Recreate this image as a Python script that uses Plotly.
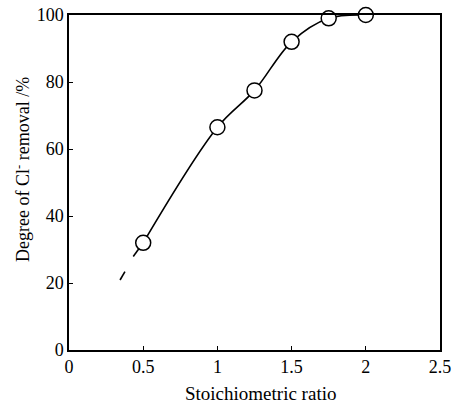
import plotly.graph_objects as go

# data
ratio = [0.5, 1.0, 1.25, 1.5, 1.75, 2.0]
removal = [32, 66.5, 77.5, 92, 99, 100]
# extrapolated part of the fitted curve below the first point
ext_dash_x = [0.344, 0.377]
ext_dash_y = [20.9, 23.4]
ext_solid_x = [0.433, 0.5]
ext_solid_y = [27.9, 32]

x_ticks = [0, 0.5, 1, 1.5, 2, 2.5]
x_ticklabels = ["0", "0.5", "1", "1.5", "2", "2.5"]
y_ticks = [0, 20, 40, 60, 80, 100]
x_title = "Stoichiometric ratio"
y_title = "Degree of Cl<sup>-</sup> removal /%"

font_family = "Liberation Serif"

fig = go.Figure()
fig.add_trace(go.Scatter(x=ext_dash_x, y=ext_dash_y, mode="lines",
                         line=dict(color="black", width=1.6), showlegend=False))
fig.add_trace(go.Scatter(x=ext_solid_x, y=ext_solid_y, mode="lines",
                         line=dict(color="black", width=1.6), showlegend=False))
fig.add_trace(go.Scatter(x=ratio, y=removal, mode="lines",
                         line=dict(color="black", width=1.6, shape="spline", smoothing=1.0),
                         showlegend=False))
fig.add_trace(go.Scatter(x=ratio, y=removal, mode="markers",
                         marker=dict(symbol="circle", size=15, color="white",
                                     line=dict(color="black", width=1.5)),
                         cliponaxis=False, showlegend=False))

fig.update_layout(
    width=452, height=406,
    margin=dict(l=69, r=12, t=15, b=56),
    paper_bgcolor="white", plot_bgcolor="white",
    font=dict(family=font_family, size=18, color="black"),
)
fig.update_xaxes(range=[0, 2.5], tickvals=x_ticks, ticktext=x_ticklabels,
                 ticks="inside", ticklen=4, tickcolor="black", showgrid=False,
                 zeroline=False, showline=True, linecolor="black", linewidth=1.5,
                 mirror=True, automargin=False,
                 tickfont=dict(family=font_family, size=18))
fig.update_yaxes(range=[0, 100], tickvals=y_ticks,
                 ticks="inside", ticklen=4, tickcolor="black", showgrid=False,
                 zeroline=False, showline=True, linecolor="black", linewidth=1.5,
                 mirror=True, automargin=False,
                 tickfont=dict(family=font_family, size=18))

fig.add_annotation(text=x_title, xref="paper", yref="paper", x=0.515, y=-0.13,
                   xanchor="center", yanchor="middle", showarrow=False,
                   font=dict(family=font_family, size=19, color="black"))
fig.add_annotation(text=y_title, xref="paper", yref="paper", x=-0.127, y=0.54,
                   xanchor="center", yanchor="middle", textangle=-90, showarrow=False,
                   font=dict(family=font_family, size=18, color="black"))

fig.write_html("out.html")
